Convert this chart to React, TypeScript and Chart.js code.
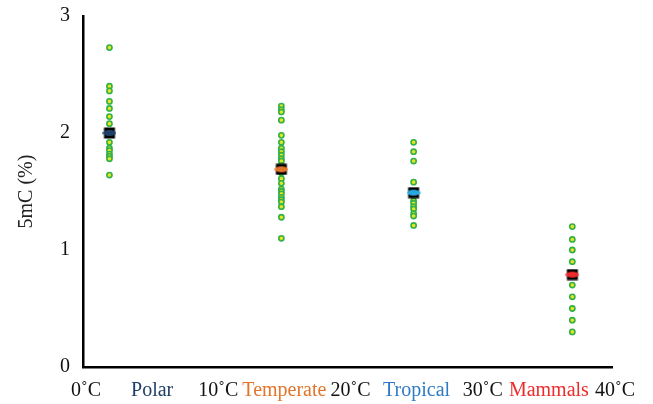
import React, { useEffect, useRef } from "react";
import { Chart, registerables } from "chart.js";

Chart.register(...registerables);

const groupNames = ["Polar", "Temperate", "Tropical", "Mammals"];
const groupX = [2, 15, 25, 37];
const groupColors = ["#1f3f66", "#e2752c", "#29a8e0", "#ee2b2b"];
const labelColors = ["#1f3f66", "#e2752c", "#2e7bc4", "#ee2b2b"];
const groupMeans = [2.0, 1.69, 1.49, 0.79];

const polarValues = [2.73, 2.4, 2.36, 2.27, 2.21, 2.14, 2.08, 1.92, 1.87, 1.85, 1.82, 1.8, 1.78, 1.64];
const temperateValues = [2.23, 2.2, 2.18, 2.11, 1.98, 1.92, 1.87, 1.84, 1.81, 1.78, 1.76, 1.72, 1.66, 1.61, 1.57, 1.52, 1.5, 1.48, 1.45, 1.43, 1.41, 1.37, 1.28, 1.1];
const tropicalValues = [1.92, 1.84, 1.76, 1.58, 1.42, 1.4, 1.37, 1.35, 1.31, 1.29, 1.21];
const mammalValues = [1.2, 1.09, 1.0, 0.9, 0.8, 0.7, 0.6, 0.5, 0.4, 0.3];
const groupValues = [polarValues, temperateValues, tropicalValues, mammalValues];

const tempLabels = ["0˚C", "10˚C", "20˚C", "30˚C", "40˚C"];
const yTicks = [0, 1, 2, 3];

function makeMeanMarker(color: string): HTMLCanvasElement {
  const c = document.createElement("canvas");
  c.width = 14;
  c.height = 12;
  const ctx = c.getContext("2d")!;
  ctx.fillStyle = "#000";
  ctx.fillRect(1.5, 0.5, 11, 11);
  ctx.fillStyle = color;
  ctx.beginPath();
  ctx.ellipse(7, 6, 6.8, 3.0, 0, 0, Math.PI * 2);
  ctx.fill();
  return c;
}

export default function App() {
  const ref = useRef<HTMLCanvasElement>(null);
  useEffect(() => {
    document.body.style.margin = "0";
    const datasets: any[] = [];
    groupValues.forEach((vals, i) => {
      datasets.push({
        label: groupNames[i],
        data: vals.map((v) => ({ x: groupX[i], y: v })),
        pointRadius: 2.6,
        pointBorderWidth: 1.6,
        pointBackgroundColor: "#e6e61e",
        pointBorderColor: "#32b04a",
        showLine: false,
        order: 2,
      });
    });
    groupMeans.forEach((m, i) => {
      datasets.push({
        label: groupNames[i] + " mean",
        data: [{ x: groupX[i], y: m }],
        pointStyle: makeMeanMarker(groupColors[i]),
        showLine: false,
        order: 1,
      });
    });
    const chart = new Chart(ref.current!, {
      type: "scatter",
      data: { datasets },
      options: {
        animation: false,
        responsive: false,
        layout: { padding: { left: 0, right: 41, top: 16, bottom: 0 } },
        plugins: { legend: { display: false }, tooltip: { enabled: false } },
        scales: {
          x: {
            type: "linear",
            min: 0,
            max: 40,
            afterBuildTicks: (scale: any) => {
              scale.ticks = [0, 5, 10, 15, 20, 25, 30, 35, 40].map((v) => ({ value: v }));
            },
            afterFit: (scale: any) => {
              scale.height = 37;
              scale.paddingLeft = 0;
              scale.paddingRight = 0;
            },
            grid: { display: false, drawTicks: false },
            border: { display: true, color: "#000", width: 2.5 },
            ticks: {
              autoSkip: false,
              maxRotation: 0,
              padding: 12,
              labelOffset: 3,
              font: { family: "Liberation Serif", size: 20 },
              callback: (v: any) => {
                const n = Number(v);
                if (n % 10 === 0) return tempLabels[n / 10];
                return groupNames[Math.floor(n / 10)];
              },
              color: (ctx: any) => {
                const n = Number(ctx.tick.value);
                if (n % 10 === 0) return "#111";
                return labelColors[Math.floor(n / 10)];
              },
            },
          },
          y: {
            min: 0,
            max: 3,
            afterBuildTicks: (scale: any) => {
              scale.ticks = yTicks.map((v) => ({ value: v }));
            },
            afterFit: (scale: any) => {
              scale.width = 83;
              scale.paddingTop = 0;
              scale.paddingBottom = 0;
            },
            grid: { display: false, drawTicks: false },
            border: { display: true, color: "#000", width: 2.5 },
            ticks: {
              padding: 13,
              color: "#111",
              font: { family: "Liberation Serif", size: 20 },
            },
            title: {
              display: true,
              text: "5mC (%)",
              color: "#222",
              font: { family: "Liberation Serif", size: 20 },
              padding: { top: 15, bottom: 15 },
            },
          },
        },
      },
    });
    return () => chart.destroy();
  }, []);
  return <canvas ref={ref} width={653} height={404} style={{ display: "block" }} />;
}
